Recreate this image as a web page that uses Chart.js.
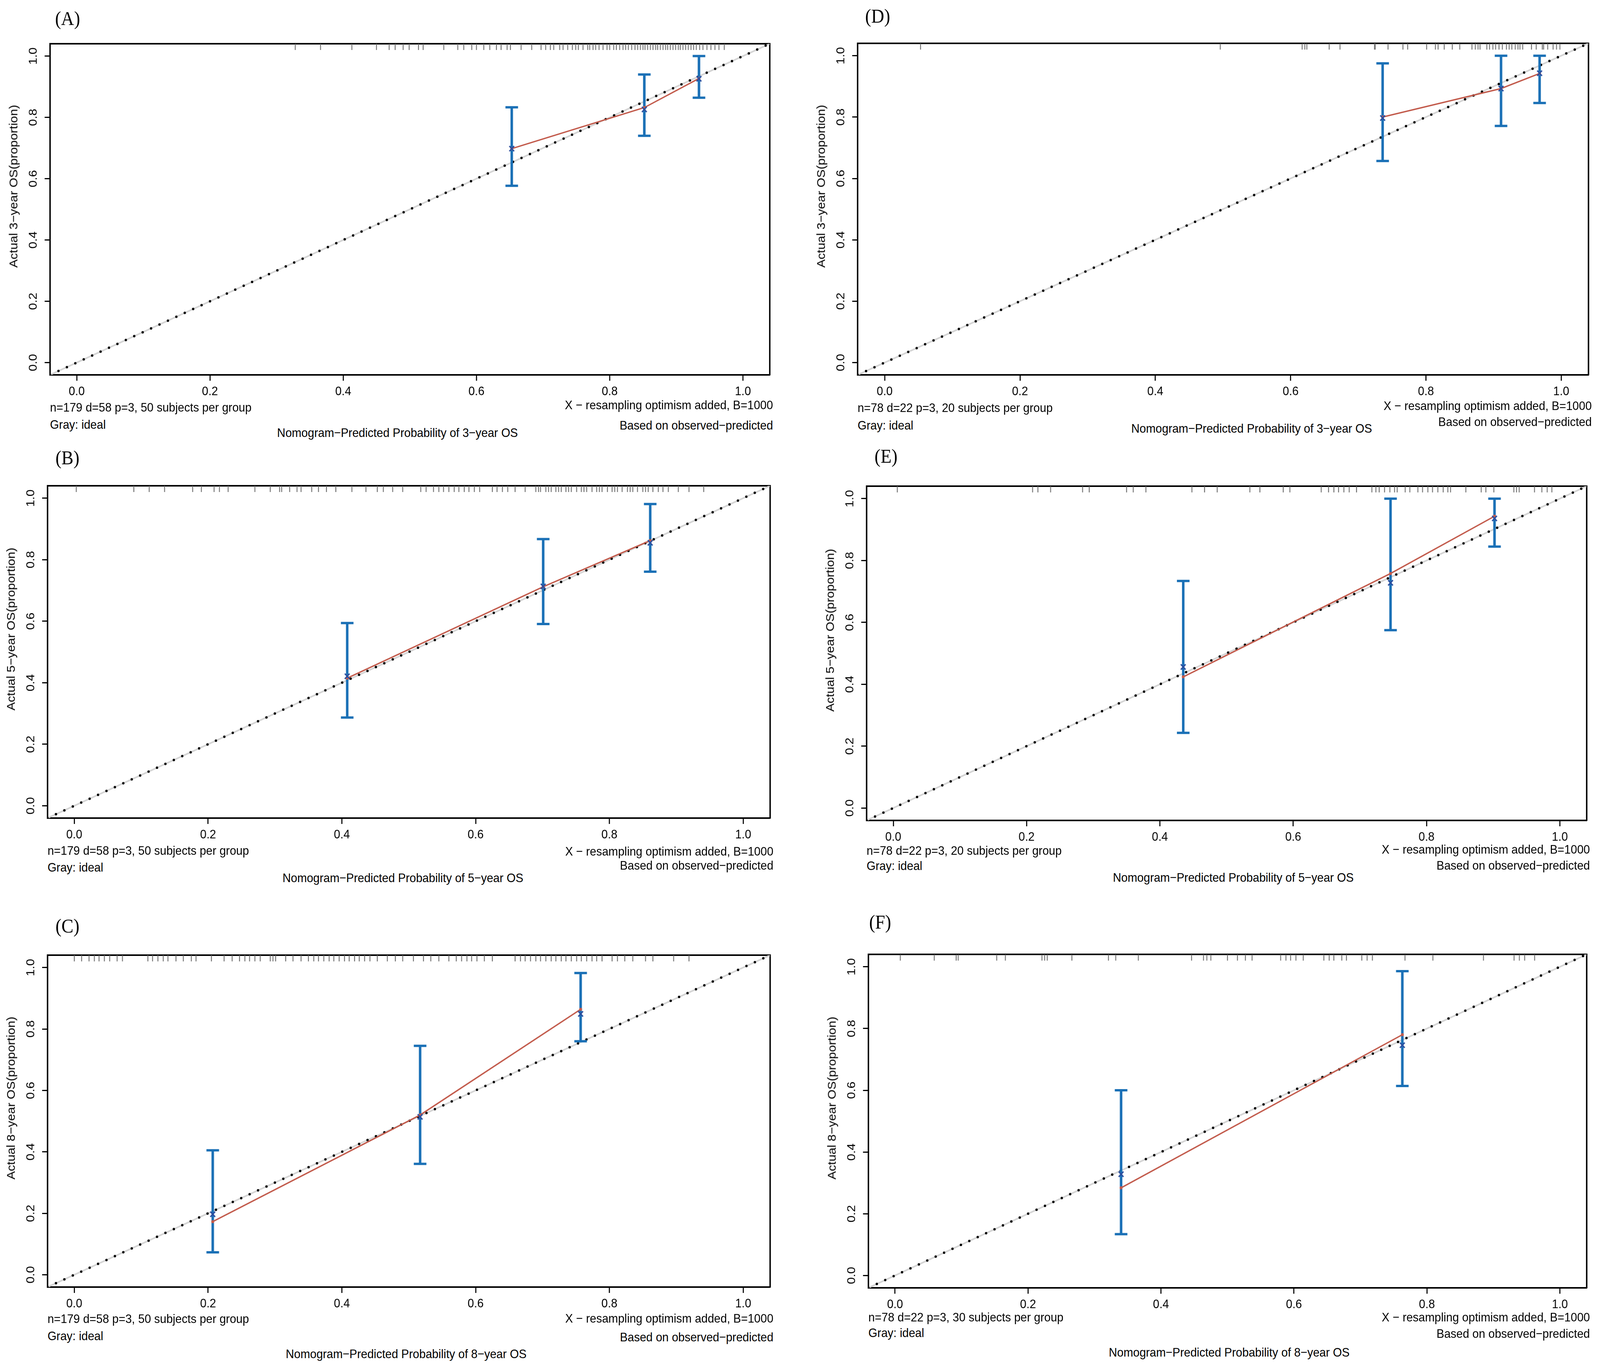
<!DOCTYPE html>
<html>
<head>
<meta charset="utf-8">
<script src="https://cdn.jsdelivr.net/npm/chart.js@4.4.1/dist/chart.umd.min.js"></script>
<style>
  html, body { margin: 0; padding: 0; background: #fff; overflow: hidden; }
  #page { position: absolute; left: 0; top: 0; width: 4444px; height: 3493px; overflow: hidden; background: #fff; transform-origin: 0 0; }
  canvas { position: absolute; }
  .txt { position: absolute; font-family: "Liberation Sans", Arial, Helvetica, sans-serif; font-size: 32px; line-height: 1; color: #000; white-space: nowrap; }
  .lab { position: absolute; font-family: "Liberation Serif", "Times New Roman", serif; font-size: 50px; line-height: 1; color: #000; white-space: nowrap; }
</style>
</head>
<body>
<div id="page"></div>
<script>
// ---------- data ----------
const panelIds = ['A', 'B', 'C', 'D', 'E', 'F'];
const horizons = ['3', '5', '8', '3', '5', '8'];
const groupNotes = [
  'n=179 d=58 p=3, 50 subjects per group',
  'n=179 d=58 p=3, 50 subjects per group',
  'n=179 d=58 p=3, 50 subjects per group',
  'n=78 d=22 p=3, 20 subjects per group',
  'n=78 d=22 p=3, 20 subjects per group',
  'n=78 d=22 p=3, 30 subjects per group'
];
const xTicks = [0, 0.2, 0.4, 0.6, 0.8, 1.0];
const yTicks = [0, 0.2, 0.4, 0.6, 0.8, 1.0];
const axisRange = [-0.04, 1.04];
const idealLine = [-0.04, 1.04];
const rugY = 1.03;

// (A) 3-year, training
const predA = [0.653, 0.852, 0.934];
const obsA  = [0.698, 0.832, 0.927];
const corrA = [0.698, 0.826, 0.926];
const loA   = [0.577, 0.740, 0.864];
const hiA   = [0.833, 0.940, 1.000];
const rugA = [0.328, 0.366, 0.413, 0.450, 0.469, 0.478, 0.490, 0.499, 0.513, 0.520, 0.551, 0.572,
  0.581, 0.593, 0.600, 0.611, 0.620, 0.630, 0.637, 0.646, 0.651, 0.667, 0.683, 0.697, 0.704, 0.711,
  0.716, 0.725, 0.730, 0.737, 0.744, 0.749, 0.753, 0.760, 0.767, 0.770, 0.775, 0.779, 0.784, 0.790,
  0.796, 0.800, 0.806, 0.810, 0.815, 0.820, 0.824, 0.828, 0.833, 0.838, 0.842, 0.846, 0.850, 0.853,
  0.857, 0.861, 0.865, 0.869, 0.872, 0.876, 0.880, 0.884, 0.887, 0.891, 0.895, 0.899, 0.903, 0.906,
  0.910, 0.914, 0.918, 0.922, 0.926, 0.930, 0.935, 0.940, 0.946, 0.952, 0.958, 0.964, 0.972];

// (B) 5-year, training
const predB = [0.408, 0.701, 0.861];
const obsB  = [0.415, 0.712, 0.862];
const corrB = [0.421, 0.713, 0.855];
const loB   = [0.287, 0.591, 0.761];
const hiB   = [0.594, 0.867, 0.981];
const rugB = [0.003, 0.089, 0.112, 0.135, 0.177, 0.190, 0.209, 0.217, 0.230, 0.270, 0.293, 0.307,
  0.310, 0.322, 0.333, 0.339, 0.355, 0.365, 0.377, 0.391, 0.415, 0.436, 0.453, 0.462, 0.476, 0.491,
  0.518, 0.526, 0.537, 0.545, 0.552, 0.560, 0.568, 0.575, 0.583, 0.590, 0.598, 0.606, 0.625, 0.632,
  0.640, 0.648, 0.659, 0.674, 0.690, 0.694, 0.697, 0.705, 0.709, 0.713, 0.720, 0.724, 0.728, 0.735,
  0.739, 0.743, 0.751, 0.758, 0.762, 0.766, 0.774, 0.781, 0.785, 0.789, 0.797, 0.804, 0.808, 0.812,
  0.819, 0.827, 0.831, 0.835, 0.842, 0.850, 0.854, 0.858, 0.865, 0.873, 0.880, 0.888, 0.903, 0.919,
  0.941];

// (C) 8-year, training
const predC = [0.207, 0.517, 0.757];
const obsC  = [0.173, 0.520, 0.864];
const corrC = [0.197, 0.514, 0.849];
const loC   = [0.073, 0.361, 0.760];
const hiC   = [0.405, 0.745, 0.982];
const rugC = [0.000, 0.011, 0.022, 0.030, 0.037, 0.045, 0.053, 0.064, 0.072, 0.110, 0.117, 0.125,
  0.133, 0.140, 0.152, 0.163, 0.175, 0.182, 0.205, 0.224, 0.236, 0.247, 0.255, 0.262, 0.270, 0.278,
  0.293, 0.297, 0.301, 0.316, 0.327, 0.339, 0.350, 0.358, 0.365, 0.373, 0.381, 0.388, 0.396, 0.404,
  0.411, 0.419, 0.426, 0.434, 0.442, 0.453, 0.468, 0.480, 0.491, 0.507, 0.522, 0.533, 0.545, 0.560,
  0.571, 0.579, 0.587, 0.594, 0.602, 0.613, 0.625, 0.659, 0.667, 0.674, 0.682, 0.690, 0.697, 0.705,
  0.713, 0.720, 0.728, 0.735, 0.743, 0.751, 0.758, 0.766, 0.774, 0.781, 0.789, 0.804, 0.812, 0.823,
  0.835, 0.854, 0.865, 0.896, 0.919];

// (D) 3-year, validation
const predD = [0.736, 0.911, 0.968];
const obsD  = [0.800, 0.893, 0.942];
const corrD = [0.797, 0.893, 0.943];
const loD   = [0.657, 0.771, 0.846];
const hiD   = [0.975, 1.000, 1.000];
const rugD = [0.053, 0.496, 0.617, 0.621, 0.624, 0.657, 0.673, 0.724, 0.725, 0.744, 0.766, 0.773,
  0.801, 0.814, 0.818, 0.827, 0.839, 0.850, 0.868, 0.873, 0.877, 0.880, 0.890, 0.894, 0.899, 0.903,
  0.908, 0.913, 0.919, 0.923, 0.927, 0.932, 0.936, 0.939, 0.943, 0.956, 0.963, 0.972, 0.974, 0.980,
  0.988, 0.993, 0.998];

// (E) 5-year, validation
const predE = [0.435, 0.746, 0.902];
const obsE  = [0.424, 0.758, 0.943];
const corrE = [0.456, 0.728, 0.936];
const loE   = [0.243, 0.575, 0.845];
const hiE   = [0.734, 1.000, 1.000];
const rugE = [0.006, 0.209, 0.217, 0.236, 0.284, 0.294, 0.350, 0.360, 0.379, 0.448, 0.467, 0.486,
  0.535, 0.550, 0.585, 0.595, 0.642, 0.653, 0.661, 0.668, 0.676, 0.684, 0.695, 0.718, 0.724, 0.729,
  0.737, 0.745, 0.752, 0.756, 0.768, 0.775, 0.787, 0.794, 0.802, 0.809, 0.817, 0.825, 0.832, 0.836,
  0.859, 0.882, 0.889, 0.901, 0.931, 0.935, 0.939, 0.962, 0.973, 0.981, 0.988];

// (F) 8-year, validation
const predF = [0.340, 0.763];
const obsF  = [0.284, 0.780];
const corrF = [0.328, 0.746];
const loF   = [0.134, 0.614];
const hiF   = [0.600, 0.986];
const rugF = [0.008, 0.059, 0.092, 0.095, 0.153, 0.166, 0.221, 0.225, 0.229, 0.266, 0.321, 0.332,
  0.366, 0.446, 0.464, 0.469, 0.475, 0.500, 0.515, 0.527, 0.537, 0.580, 0.588, 0.595, 0.603, 0.614,
  0.645, 0.653, 0.660, 0.672, 0.679, 0.702, 0.710, 0.718, 0.767, 0.809, 0.885, 0.931, 0.939, 0.947,
  0.962];

// ---------- layout (page pixels) ----------
const PAGE_W = 4444, PAGE_H = 3493;
const boxes = [
  { l: 139, r: 2147, t: 94, b: 960 },
  { l: 132, r: 2148, t: 1226, b: 2095 },
  { l: 132, r: 2148, t: 2428, b: 3296 },
  { l: 2382, r: 4421, t: 93, b: 960 },
  { l: 2407, r: 4416, t: 1227, b: 2101 },
  { l: 2412, r: 4416, t: 2426, b: 3298 }
];
// vertical offsets below the box: note line, "Gray" line, x title, right note 1, right note 2
const textOffsets = [
  { n: 83, gray: 127, title: 148, xres: 77, based: 129 },
  { n: 83, gray: 126, title: 153, xres: 85, based: 121 },
  { n: 81, gray: 125, title: 171, xres: 80, based: 128 },
  { n: 84, gray: 129, title: 137, xres: 79, based: 120 },
  { n: 77, gray: 116, title: 146, xres: 74, based: 115 },
  { n: 75, gray: 115, title: 165, xres: 75, based: 117 }
];
const titleShift = [-39, -21, -12, 75, 14, 0];
const labelPos = [
  { x: 153, y: 47 }, { x: 154, y: 1172 }, { x: 154, y: 2371 },
  { x: 2403, y: 41 }, { x: 2429, y: 1168 }, { x: 2414, y: 2361 }
];

const RED = '#c25a4b';
const BLUE = '#1a70b6';
const NAVY = '#2c4f9f';
const FONT = 'Liberation Sans';

const page = document.getElementById('page');

// stretch the fixed-size page over the viewport the browser really has
const viewW = window.innerWidth || PAGE_W;
const viewH = window.innerHeight || PAGE_H;
const sx = viewW / PAGE_W, sy = viewH / PAGE_H;
page.style.transform = 'scale(' + sx + ', ' + sy + ')';
document.body.style.width = viewW + 'px';
document.body.style.height = viewH + 'px';
const pixelRatio = Math.max(sx, sy) * (window.devicePixelRatio || 1);

function addText(cls, text, left, top, transform) {
  const d = document.createElement('div');
  d.className = cls;
  d.textContent = text;
  d.style.left = left + 'px';
  d.style.top = top + 'px';
  d.style.transform = transform;
  page.appendChild(d);
  return d;
}

function makePanel(i, p) {
  const box = boxes[i];
  const off = textOffsets[i];
  const yAxisW = 130, xAxisH = 70, padTop = 10, padRight = 14;
  const w = box.r - box.l, h = box.b - box.t;

  const canvas = document.createElement('canvas');
  canvas.width = yAxisW + w + padRight;
  canvas.height = padTop + h + xAxisH;
  canvas.style.left = (box.l - yAxisW) + 'px';
  canvas.style.top = (box.t - padTop) + 'px';
  canvas.style.width = canvas.width + 'px';
  canvas.style.height = canvas.height + 'px';
  page.appendChild(canvas);

  const ideal = idealLine.map(v => ({ x: v, y: v }));
  const curve = p.pred.map((x, k) => ({ x: x, y: p.obs[k] }));
  const marks = p.pred.map((x, k) => ({ x: x, y: p.corr[k] }));
  const bars = [];
  p.pred.forEach((x, k) => {
    bars.push({ x: x, y: p.lo[k] }, { x: x, y: p.hi[k] }, { x: x, y: null });
  });

  const datasets = [
    { data: ideal, showLine: true, borderColor: '#d4d4d4', borderWidth: 4, pointRadius: 0, order: 10 },
    { data: ideal, showLine: true, borderColor: '#000', borderWidth: 6.5, borderDash: [0, 25.4],
      borderCapStyle: 'round', pointRadius: 0, order: 9 },
    { data: p.rug.map(v => ({ x: v, y: rugY })), showLine: false, pointStyle: 'line', pointRotation: 90,
      pointRadius: 8, pointBorderWidth: 2.5, pointBorderColor: '#6f6f6f', order: 8 },
    { data: curve, showLine: true, borderColor: RED, borderWidth: 3.5, pointRadius: 0, order: 7 },
    { data: bars, showLine: true, spanGaps: false, borderColor: BLUE, borderWidth: 7,
      pointStyle: 'line', pointRadius: 17.5, pointBorderWidth: 6, pointBorderColor: BLUE,
      pointBackgroundColor: BLUE, order: 6 },
    { data: curve, showLine: false, pointStyle: 'circle', pointRadius: 4, pointBorderWidth: 0,
      pointBackgroundColor: RED, order: 5 },
    { data: marks, showLine: false, pointStyle: 'crossRot', pointRadius: 9.5, pointBorderWidth: 3.5,
      pointBorderColor: NAVY, order: 4 }
  ];

  const tickFont = { family: FONT, size: 32 };
  new Chart(canvas.getContext('2d'), {
    type: 'scatter',
    data: { datasets: datasets },
    options: {
      responsive: false,
      animation: false,
      devicePixelRatio: pixelRatio,
      events: [],
      layout: { padding: { top: padTop, right: padRight, left: 0, bottom: 0 } },
      plugins: { legend: { display: false }, tooltip: { enabled: false } },
      scales: {
        x: {
          type: 'linear', position: 'bottom', min: axisRange[0], max: axisRange[1],
          afterBuildTicks: s => { s.ticks = xTicks.map(v => ({ value: v })); },
          afterFit: s => { s.height = xAxisH; },
          grid: { display: true, drawOnChartArea: false, drawTicks: true, tickLength: 15, color: '#000', lineWidth: 3 },
          border: { display: true, color: '#000', width: 4 },
          ticks: { color: '#000', font: tickFont, padding: 9, maxRotation: 0, autoSkip: false,
                   callback: v => Number(v).toFixed(1) }
        },
        y: {
          type: 'linear', position: 'left', min: axisRange[0], max: axisRange[1],
          afterBuildTicks: s => { s.ticks = yTicks.map(v => ({ value: v })); },
          afterFit: s => { s.width = yAxisW; },
          grid: { display: true, drawOnChartArea: false, drawTicks: true, tickLength: 15, color: '#000', lineWidth: 3 },
          border: { display: true, color: '#000', width: 4 },
          ticks: { color: '#000', font: tickFont, padding: 9, minRotation: 90, maxRotation: 90,
                   crossAlign: 'center', autoSkip: false, callback: v => Number(v).toFixed(1) }
        },
        xTop: {
          type: 'linear', position: 'top', display: true,
          afterFit: s => { s.height = 0; },
          grid: { display: false }, ticks: { display: false },
          border: { display: true, color: '#000', width: 4 }
        },
        yRight: {
          type: 'linear', position: 'right', display: true,
          afterFit: s => { s.width = 0; },
          grid: { display: false }, ticks: { display: false },
          border: { display: true, color: '#000', width: 4 }
        }
      }
    }
  });

  // texts around the plot
  const yr = horizons[i];
  addText('lab', '(' + panelIds[i] + ')', labelPos[i].x, labelPos[i].y, 'translateY(-50%)');
  addText('txt', 'Actual ' + yr + '\u2212year OS(proportion)', box.l - 102, (box.t + box.b) / 2 - 50,
          'translate(-50%, -50%) rotate(-90deg)');
  addText('txt', groupNotes[i], box.l, box.b + off.n, 'translateY(-50%)');
  addText('txt', 'Gray: ideal', box.l, box.b + off.gray, 'translateY(-50%)');
  addText('txt', 'Nomogram\u2212Predicted Probability of ' + yr + '\u2212year OS',
          (box.l + box.r) / 2 + titleShift[i], box.b + off.title, 'translate(-50%, -50%)');
  addText('txt', 'X \u2212 resampling optimism added, B=1000', box.r, box.b + off.xres, 'translate(-100%, -50%)');
  addText('txt', 'Based on observed\u2212predicted', box.r, box.b + off.based, 'translate(-100%, -50%)');
}

const panels = [
  { pred: predA, obs: obsA, corr: corrA, lo: loA, hi: hiA, rug: rugA },
  { pred: predB, obs: obsB, corr: corrB, lo: loB, hi: hiB, rug: rugB },
  { pred: predC, obs: obsC, corr: corrC, lo: loC, hi: hiC, rug: rugC },
  { pred: predD, obs: obsD, corr: corrD, lo: loD, hi: hiD, rug: rugD },
  { pred: predE, obs: obsE, corr: corrE, lo: loE, hi: hiE, rug: rugE },
  { pred: predF, obs: obsF, corr: corrF, lo: loF, hi: hiF, rug: rugF }
];

panels.forEach((p, i) => makePanel(i, p));
</script>
</body>
</html>
